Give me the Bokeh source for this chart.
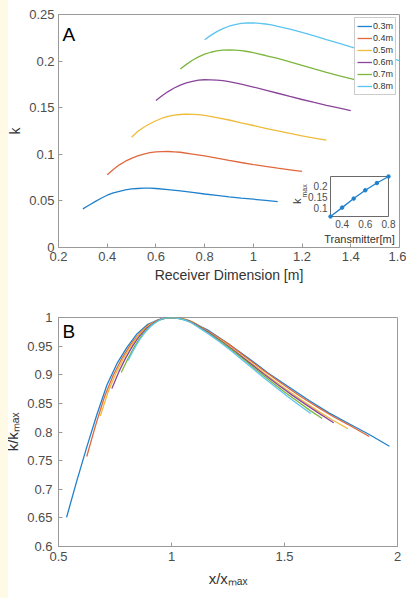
import math
from bokeh.plotting import figure
from bokeh.models import (Range1d, FixedTicker, CustomJSTickFormatter, Legend,
                          LegendItem, Label)
from bokeh.layouts import column
from bokeh.embed import file_html
from bokeh.resources import INLINE
from bokeh.core.properties import value

# ---------------- data ----------------
transmitters = ["0.3m", "0.4m", "0.5m", "0.6m", "0.7m", "0.8m"]
transmitter_size = [0.3, 0.4, 0.5, 0.6, 0.7, 0.8]

x_03 = [0.300, 0.325, 0.350, 0.375, 0.400, 0.425, 0.450, 0.475, 0.500, 0.525, 0.550, 0.575, 0.600,
        0.650, 0.700, 0.750, 0.800, 0.850, 0.900, 0.950, 1.000, 1.050, 1.100]
k_03 = [0.0414, 0.0454, 0.0492, 0.0528, 0.0561, 0.0585, 0.0603, 0.0618, 0.0628, 0.0633, 0.0636, 0.0636, 0.0633,
        0.0622, 0.0607, 0.0591, 0.0574, 0.0559, 0.0544, 0.0530, 0.0518, 0.0506, 0.0493]

x_04 = [0.400, 0.425, 0.450, 0.475, 0.500, 0.525, 0.550, 0.575, 0.600, 0.625, 0.650, 0.675, 0.700,
        0.750, 0.800, 0.850, 0.900, 0.950, 1.000, 1.050, 1.100, 1.150, 1.200]
k_04 = [0.0780, 0.0836, 0.0887, 0.0926, 0.0957, 0.0982, 0.1002, 0.1017, 0.1025, 0.1029, 0.1030, 0.1027, 0.1022,
        0.1003, 0.0983, 0.0959, 0.0935, 0.0912, 0.0890, 0.0870, 0.0851, 0.0834, 0.0816]

x_05 = [0.500, 0.525, 0.550, 0.575, 0.600, 0.625, 0.650, 0.675, 0.700, 0.725, 0.750, 0.775, 0.800,
        0.850, 0.900, 0.950, 1.000, 1.050, 1.100, 1.150, 1.200, 1.250, 1.300]
k_05 = [0.1184, 0.1244, 0.1290, 0.1328, 0.1360, 0.1387, 0.1406, 0.1420, 0.1427, 0.1430, 0.1429, 0.1425, 0.1418,
        0.1393, 0.1368, 0.1338, 0.1309, 0.1279, 0.1251, 0.1224, 0.1198, 0.1174, 0.1152]

x_06 = [0.600, 0.625, 0.650, 0.675, 0.700, 0.725, 0.750, 0.775, 0.800, 0.825, 0.850, 0.875, 0.900,
        0.950, 1.000, 1.050, 1.100, 1.150, 1.200, 1.250, 1.300, 1.350, 1.400]
k_06 = [0.1577, 0.1629, 0.1673, 0.1711, 0.1742, 0.1766, 0.1783, 0.1795, 0.1800, 0.1799, 0.1796, 0.1790, 0.1780,
        0.1752, 0.1722, 0.1689, 0.1655, 0.1621, 0.1588, 0.1556, 0.1526, 0.1497, 0.1469]

x_07 = [0.700, 0.725, 0.750, 0.775, 0.800, 0.825, 0.850, 0.875, 0.900, 0.925, 0.950, 0.975, 1.000,
        1.050, 1.100, 1.150, 1.200, 1.250, 1.300, 1.350, 1.400, 1.450, 1.500]
k_07 = [0.1916, 0.1965, 0.2009, 0.2045, 0.2074, 0.2095, 0.2110, 0.2118, 0.2120, 0.2117, 0.2112, 0.2103, 0.2090,
        0.2060, 0.2028, 0.1992, 0.1955, 0.1917, 0.1880, 0.1844, 0.1811, 0.1777, 0.1746]

x_08 = [0.800, 0.825, 0.850, 0.875, 0.900, 0.925, 0.950, 0.975, 1.000, 1.025, 1.050, 1.075, 1.100,
        1.150, 1.200, 1.250, 1.300, 1.350, 1.400, 1.450, 1.500, 1.550, 1.600]
k_08 = [0.2229, 0.2276, 0.2316, 0.2348, 0.2374, 0.2392, 0.2404, 0.2409, 0.2410, 0.2405, 0.2398, 0.2389, 0.2373,
        0.2342, 0.2308, 0.2271, 0.2231, 0.2192, 0.2152, 0.2114, 0.2076, 0.2041, 0.2006]

# peak position (x_max) and peak value (k_max) of each curve
x_peak = [0.56, 0.64, 0.73, 0.815, 0.90, 0.99]
k_peak = [0.0636, 0.1030, 0.1430, 0.1800, 0.2120, 0.2410]

xticks_A = [0.2, 0.4, 0.6, 0.8, 1.0, 1.2, 1.4, 1.6]
yticks_A = [0, 0.05, 0.1, 0.15, 0.2, 0.25]
xticks_B = [0.5, 1, 1.5, 2]
yticks_B = [0.6, 0.65, 0.7, 0.75, 0.8, 0.85, 0.9, 0.95, 1]
xticks_in = [0.4, 0.6, 0.8]
yticks_in = [0.1, 0.15, 0.2]

series_x = [x_03, x_04, x_05, x_06, x_07, x_08]
series_k = [k_03, k_04, k_05, k_06, k_07, k_08]

# ---------------- style ----------------
FONT = "Liberation Sans"
AX = "#9a9a9a"
TXT = "#4d4d4d"
LBL = "#333333"
colors = ["#1f80cc", "#e0683e", "#efbb3a", "#8a459a", "#7db63e", "#5cc4f0"]
FMT = "return String(+tick.toFixed(3));"


def style(p, xt, yt, ystand=4, xstand=4):
    for ax, t, st in ((p.xaxis[0], xt, xstand), (p.yaxis[0], yt, ystand)):
        ax.ticker = FixedTicker(ticks=t)
        ax.formatter = CustomJSTickFormatter(code=FMT)
        ax.axis_line_color = AX
        ax.major_tick_line_color = AX
        ax.major_tick_in = 4
        ax.major_tick_out = 0
        ax.minor_tick_line_color = None
        ax.major_label_text_font = FONT
        ax.major_label_text_font_size = "13px"
        ax.major_label_text_color = TXT
        ax.major_label_standoff = st
        ax.axis_label_text_font = FONT
        ax.axis_label_text_font_size = "14px"
        ax.axis_label_text_font_style = "normal"
        ax.axis_label_text_color = LBL
        ax.axis_label_standoff = 3
    p.xgrid.visible = False
    p.ygrid.visible = False
    p.outline_line_color = AX
    p.background_fill_color = "white"
    p.border_fill_color = "white"


# ---------------- panel A ----------------
FA_W, FA_H = 341, 233
pA = figure(frame_width=FA_W, frame_height=FA_H,
            x_range=Range1d(0.2, 1.6), y_range=Range1d(0, 0.25),
            min_border_left=56, min_border_right=9, min_border_top=14, min_border_bottom=49,
            output_backend="svg", toolbar_location=None)
style(pA, xticks_A, yticks_A)
pA.xaxis.axis_label = "Receiver Dimension [m]"
pA.yaxis.axis_label = "k"

items = []
for i in range(6):
    r = pA.line(series_x[i], series_k[i], line_color=colors[i], line_width=1.3)
    items.append(LegendItem(label=transmitters[i], renderers=[r]))
leg = Legend(items=items, location="top_right", margin=3, padding=2, spacing=0,
             label_text_font=FONT, label_text_font_size="9px", label_text_color=LBL,
             label_height=12, glyph_height=12, glyph_width=15, label_standoff=1,
             border_line_color=AX, background_fill_alpha=1.0)
pA.add_layout(leg)

pA.add_layout(Label(x=4, y=FA_H - 9, x_units="screen", y_units="screen", text="A",
                    text_font=FONT, text_font_size="19px", text_baseline="top",
                    text_color="black"))

# inset (drawn on its own ranges placed in the lower right of the frame)
IN_L, IN_R, IN_T, IN_B = 272, 330, 162, 202   # frame pixels (from left / from top)
tmin, tmax = min(transmitter_size), max(transmitter_size)
kmin, kmax = min(k_peak), max(k_peak)
sx = (IN_R - IN_L) / (tmax - tmin)
sy = (IN_B - IN_T) / (kmax - kmin)
pA.extra_x_ranges = {"ix": Range1d(tmin - IN_L / sx, tmax + (FA_W - IN_R) / sx)}
pA.extra_y_ranges = {"iy": Range1d(kmin - (FA_H - IN_B) / sy, kmax + IN_T / sy)}
pA.quad(left=[tmin], right=[tmax], bottom=[kmin], top=[kmax], fill_color="white",
        line_color="#6a6a6a", line_width=1, x_range_name="ix", y_range_name="iy")
pA.line(transmitter_size, k_peak, line_color=colors[0], line_width=1.3,
        x_range_name="ix", y_range_name="iy")
pA.scatter(transmitter_size, k_peak, size=3.5, color=colors[0],
           x_range_name="ix", y_range_name="iy")
pA.text(x=xticks_in, y=[kmin] * len(xticks_in), text=[str(t) for t in xticks_in],
        text_font=value(FONT), text_font_size=value("10px"), text_color=TXT,
        text_align="center", text_baseline="top", y_offset=3,
        x_range_name="ix", y_range_name="iy")
pA.text(x=[tmin] * len(yticks_in), y=yticks_in, text=[str(t) for t in yticks_in],
        text_font=value(FONT), text_font_size=value("10px"), text_color=TXT,
        text_align="right", text_baseline="middle", x_offset=-3,
        x_range_name="ix", y_range_name="iy")
pA.add_layout(Label(x=301, y=9, x_units="screen", y_units="screen", text="Transmitter[m]",
                    text_font=FONT, text_font_size="11px", text_color=LBL,
                    text_align="center", text_baseline="middle"))
pA.add_layout(Label(x=238, y=49, x_units="screen", y_units="screen", text="k",
                    angle=math.pi / 2, text_font=FONT, text_font_size="11px", text_color=LBL,
                    text_align="right", text_baseline="middle"))
pA.add_layout(Label(x=246, y=50, x_units="screen", y_units="screen", text="max",
                    angle=math.pi / 2, text_font=FONT, text_font_size="7px", text_color=LBL,
                    text_align="left", text_baseline="middle"))

# ---------------- panel B ----------------
FB_W, FB_H = 339, 229
pB = figure(frame_width=FB_W, frame_height=FB_H,
            x_range=Range1d(0.5, 2.0), y_range=Range1d(0.6, 1.0),
            min_border_left=58, min_border_right=9, min_border_top=21, min_border_bottom=50,
            output_backend="svg", toolbar_location=None)
style(pB, xticks_B, yticks_B, ystand=6, xstand=5)
pB.xaxis.axis_label = "x/x\u2098\u2090\u2093"
pB.yaxis.axis_label = "k/k\u2098\u2090\u2093"
pB.xaxis.axis_label_text_font_size = "15px"
pB.yaxis.axis_label_text_font_size = "15px"
pB.xaxis.axis_label_standoff = 6

for i in range(6):
    xn = [x / x_peak[i] for x in series_x[i]]
    kn = [k / k_peak[i] for k in series_k[i]]
    pB.line(xn, kn, line_color=colors[i], line_width=1.3)

pB.add_layout(Label(x=4, y=FB_H - 3, x_units="screen", y_units="screen", text="B",
                    text_font=FONT, text_font_size="19px", text_baseline="top",
                    text_color="black"))

layout = column(pA, pB, spacing=0)
html = file_html(layout, INLINE, title="k vs receiver dimension")
html = html.replace(
    "</head>",
    "<style>body::before{content:'';position:fixed;left:0;top:0;width:8px;height:100%;"
    "background:#fffae6;z-index:1000;pointer-events:none;}</style></head>", 1)
open("out.html", "w").write(html)
